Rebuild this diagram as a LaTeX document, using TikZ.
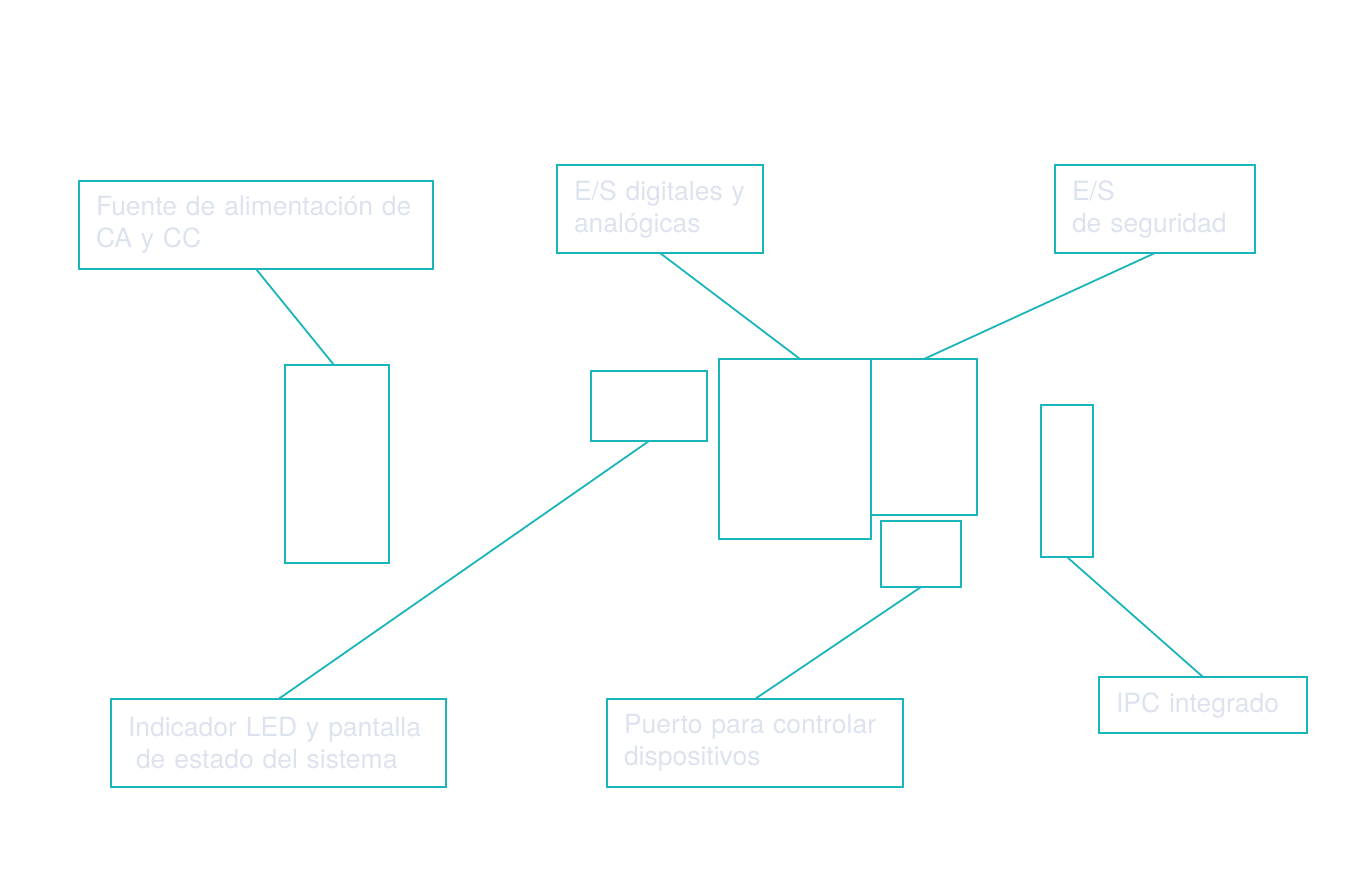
\documentclass[tikz,border=0pt]{standalone}
\usepackage{fontspec}
\setmainfont{TeX Gyre Heros}
\usetikzlibrary{positioning}
\definecolor{boxteal}{RGB}{26,181,186}
\definecolor{textgrey}{RGB}{220,227,238}
\tikzstyle{callout} = [rectangle, draw=boxteal, line width=1.8pt, outer sep=0pt, inner xsep=17pt, inner ysep=0pt, align=left, text=textgrey, font=\fontsize{26.5}{32}\selectfont, anchor=north west]
\tikzstyle{part} = [rectangle, draw=boxteal, line width=1.8pt, outer sep=0pt, inner sep=0pt, anchor=north west]
\tikzstyle{link} = [draw=boxteal, line width=1.8pt]

\begin{document}
\begin{tikzpicture}[x=1pt, y=-1pt]
	\useasboundingbox (0,0) rectangle (1360,870);
	% labels
	\node (fuente) [callout, text width=320pt, minimum height=88pt] at (79,181) {Fuente de alimentación de\\CA y CC};
	\node (digital) [callout, text width=172pt, minimum height=88pt] at (557,165) {E/S digitales y\\analógicas};
	\node (seguridad) [callout, text width=166pt, minimum height=88pt] at (1055,165) {E/S\\de seguridad};
	\node (indicador) [callout, text width=301pt, minimum height=88pt] at (111,699) {Indicador LED y pantalla\\\hspace*{8pt}de estado del sistema};
	\node (puerto) [callout, text width=262pt, minimum height=88pt] at (607,699) {Puerto para controlar\\dispositivos};
	\node (ipc) [callout, text width=174pt, minimum height=56pt] at (1099,677) {IPC integrado};
	% parts
	\node (supply) [part, minimum width=104pt, minimum height=198pt] at (285,365) {};
	\node (panel) [part, minimum width=116pt, minimum height=70pt] at (591,371) {};
	\node (cpu) [part, minimum width=152pt, minimum height=180pt] at (719,359) {};
	\node (safety) [part, minimum width=106pt, minimum height=156pt] at (871,359) {};
	\node (port) [part, minimum width=80pt, minimum height=66pt] at (881,521) {};
	\node (ipcmod) [part, minimum width=52pt, minimum height=152pt] at (1041,405) {};
	% links
	\draw [link] (fuente.south) -- ([xshift=-3pt]supply.north);
	\draw [link] (digital.south) -- ([xshift=5pt]cpu.north);
	\draw [link] (seguridad.south) -- (safety.north);
	\draw [link] (panel.south) -- (indicador.north);
	\draw [link] (port.south) -- (puerto.north);
	\draw [link] (ipcmod.south) -- (ipc.north);
\end{tikzpicture}
\end{document}
